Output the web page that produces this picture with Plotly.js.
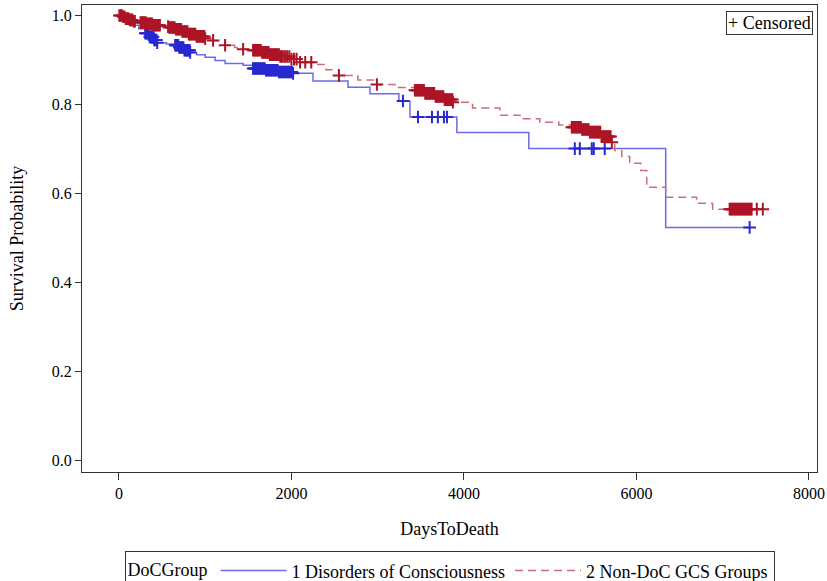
<!DOCTYPE html>
<html><head><meta charset="utf-8">
<script src="https://cdn.plot.ly/plotly-3.0.1.min.js"></script>
<style>html,body{margin:0;padding:0;background:#fff}#chart{width:827px;height:581px}</style>
</head><body><div id="chart"></div>
<script>
// ---- Data ----
const groupNames = ['1 Disorders of Consciousness', '2 Non-DoC GCS Groups'];

// Group 1: Disorders of Consciousness (event times / survival after the event)
const docTimes = [0, 40, 80, 120, 166, 230, 305, 350, 400, 444, 550, 652, 700, 760, 826, 900, 1000, 1115, 1231, 1440, 1555, 1700, 1850, 2019, 2250, 2656, 2911, 3246, 3374, 3918, 4752, 6339];
const docSurv  = [1.0, 0.995, 0.990, 0.985, 0.978, 0.970, 0.960, 0.952, 0.945, 0.939, 0.936, 0.933, 0.928, 0.922, 0.917, 0.912, 0.906, 0.899, 0.892, 0.888, 0.881, 0.877, 0.873, 0.870, 0.853, 0.839, 0.824, 0.808, 0.772, 0.737, 0.701, 0.524];
const docCensored = [305, 318, 331, 344, 357, 370, 383, 396, 409, 422, 435, 444,
  652, 664, 676, 688, 700, 712, 724, 736, 748, 760, 772, 784, 796, 808, 820, 826,
  1555, 1570, 1585, 1600, 1615, 1630, 1645, 1660, 1675, 1690, 1705, 1720, 1735, 1750, 1765, 1780, 1795, 1810, 1825, 1840, 1855, 1870, 1885, 1900, 1915, 1930, 1945, 1960, 1975, 1990, 2005, 2019,
  3293, 3467, 3629, 3698, 3768, 3803, 5285, 5343, 5482, 5505, 5632, 7312];

// Group 2: Non-DoC GCS Groups
const nonDocTimes = [0, 40, 80, 120, 166, 247, 320, 400, 480, 571, 650, 730, 810, 900, 1000, 1092, 1231, 1340, 1440, 1555, 1650, 1750, 1868, 1980, 2100, 2250, 2400, 2551, 2770, 2991, 3200, 3431, 3550, 3663, 3770, 3872, 4100, 4416, 4650, 4880, 5100, 5250, 5360, 5459, 5590, 5714, 5748, 5830, 5922, 6050, 6119, 6339, 6698, 6883];
const nonDocSurv  = [1.0, 0.997, 0.993, 0.990, 0.987, 0.984, 0.981, 0.978, 0.975, 0.973, 0.969, 0.964, 0.958, 0.953, 0.948, 0.944, 0.933, 0.928, 0.924, 0.922, 0.917, 0.912, 0.908, 0.902, 0.895, 0.890, 0.878, 0.865, 0.855, 0.845, 0.838, 0.832, 0.825, 0.818, 0.811, 0.805, 0.792, 0.776, 0.768, 0.760, 0.754, 0.749, 0.744, 0.738, 0.728, 0.715, 0.697, 0.683, 0.668, 0.652, 0.614, 0.592, 0.578, 0.565];
const nonDocCensored = [5, 20, 35, 50, 65, 80, 95, 110, 125, 140, 155, 170, 185,
  250, 265, 280, 295, 310, 325, 340, 355, 370, 385, 400, 415, 430, 445, 460, 475,
  570, 585, 600, 615, 630, 645, 660, 675, 690, 705, 720, 735, 750, 765, 780, 795, 810, 825, 840, 855, 870, 885, 900, 915, 930, 945, 960, 975, 990, 1000,
  1092, 1231, 1440,
  1555, 1570, 1585, 1600, 1615, 1630, 1645, 1660, 1675, 1690, 1705, 1720, 1735, 1750, 1765, 1780, 1795, 1810, 1825, 1840, 1855, 1870, 1885, 1900, 1925, 1950, 1975, 2000, 2030, 2060, 2100, 2160, 2230,
  2551, 2991,
  3431, 3446, 3461, 3476, 3491, 3506, 3521, 3536, 3551, 3566, 3581, 3596, 3611, 3626, 3641, 3656, 3671, 3686, 3701, 3716, 3731, 3746, 3761, 3776, 3791, 3806, 3821, 3836, 3851, 3866, 3872,
  5250, 5265, 5280, 5295, 5310, 5325, 5340, 5355, 5370, 5385, 5400, 5415, 5430, 5445, 5460, 5475, 5490, 5505, 5520, 5535, 5550, 5565, 5580, 5595, 5610, 5625, 5640, 5655, 5670, 5685, 5700, 5714,
  7080, 7095, 7110, 7125, 7140, 7155, 7170, 7185, 7200, 7215, 7230, 7245, 7260, 7275, 7290, 7305, 7320, 7335, 7395, 7465];

const xTickVals = [0, 2000, 4000, 6000, 8000];
const yTickVals = [0.0, 0.2, 0.4, 0.6, 0.8, 1.0];

// ---- helpers ----
function survAt(times, surv, t) {
  let s = surv[0];
  for (let i = 0; i < times.length; i++) { if (times[i] <= t) s = surv[i]; else break; }
  return s;
}
function curveX(times, cens) { return times.concat([Math.max(...cens)]); }
function curveY(surv) { return surv.concat([surv[surv.length - 1]]); }

const blueLine = '#6b6be6', blueMark = '#2828d0';
const redLine = '#c8707a', redMark = '#ad1426';

const traces = [
  { x: curveX(docTimes, docCensored), y: curveY(docSurv), type: 'scatter', mode: 'lines',
    line: { shape: 'hv', color: blueLine, width: 1.5 }, name: groupNames[0], hoverinfo: 'skip' },
  { x: curveX(nonDocTimes, nonDocCensored), y: curveY(nonDocSurv), type: 'scatter', mode: 'lines',
    line: { shape: 'hv', color: redLine, width: 1.5, dash: '8px,5px' }, name: groupNames[1], hoverinfo: 'skip' },
  { x: docCensored, y: docCensored.map(t => survAt(docTimes, docSurv, t)), type: 'scatter', mode: 'markers',
    marker: { symbol: 'cross-thin-open', size: 9, color: blueMark, line: { color: blueMark, width: 2 } }, showlegend: false, hoverinfo: 'skip' },
  { x: nonDocCensored, y: nonDocCensored.map(t => survAt(nonDocTimes, nonDocSurv, t)), type: 'scatter', mode: 'markers',
    marker: { symbol: 'cross-thin-open', size: 9, color: redMark, line: { color: redMark, width: 2 } }, showlegend: false, hoverinfo: 'skip' }
];

const fontFam = '"Liberation Serif", "Times New Roman", serif';
const layout = {
  width: 827, height: 581,
  margin: { l: 82, r: 9.5, t: 4.5, b: 108.7, autoexpand: false },
  paper_bgcolor: '#fff', plot_bgcolor: '#fff',
  font: { family: fontFam, size: 16, color: '#000' },
  showlegend: true,
  xaxis: {
    range: [-428, 8093], tickvals: xTickVals, tickformat: 'd',
    ticks: 'outside', ticklen: 7, tickwidth: 1, tickcolor: '#333',
    showline: true, linecolor: '#333', linewidth: 1, mirror: true,
    showgrid: false, zeroline: false,
    tickfont: { size: 16 },
    title: { text: 'DaysToDeath', font: { size: 18 }, standoff: 21 }
  },
  yaxis: {
    range: [-0.0253, 1.0235], tickvals: yTickVals, tickformat: '.1f',
    ticks: 'outside', ticklen: 6, tickwidth: 1, tickcolor: '#333',
    showline: true, linecolor: '#333', linewidth: 1, mirror: true,
    showgrid: false, zeroline: false,
    tickfont: { size: 16 },
    title: { text: 'Survival Probability', font: { size: 18 }, standoff: 23 }
  },
  legend: {
    orientation: 'h', x: 0.5, xanchor: 'center', y: -0.17, yanchor: 'top',
    bordercolor: '#333', borderwidth: 1, bgcolor: '#fff',
    itemwidth: 66,
    font: { size: 18 }, title: { text: 'DoCGroup', font: { size: 18 } }
  },
  annotations: [{
    xref: 'paper', yref: 'paper', x: 0.9939, y: 0.9882, xanchor: 'right', yanchor: 'top',
    text: '+ Censored', showarrow: false, bordercolor: '#333', borderwidth: 1, borderpad: 1,
    bgcolor: '#fff', font: { size: 18 }
  }]
};

Plotly.newPlot('chart', traces, layout, { displayModeBar: false, staticPlot: true });
</script></body></html>
